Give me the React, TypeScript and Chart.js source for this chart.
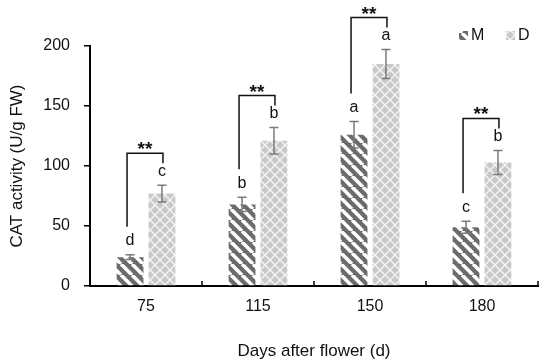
import React, { useEffect, useRef } from "react";
import { Chart, registerables } from "chart.js";

Chart.register(...registerables);

const categories = ["75", "115", "150", "180"];
const mValues = [24, 68, 126, 49];
const mErrors = [2, 6, 11, 5];
const dValues = [77, 121, 185, 103];
const dErrors = [7, 11, 12, 10];
const mLetters = ["d", "b", "a", "c"];
const dLetters = ["c", "b", "a", "b"];
const significance = ["**", "**", "**", "**"];
const seriesNames = ["M", "D"];
const yTicks = [0, 50, 100, 150, 200];

const FONT = "'Liberation Sans', Arial, sans-serif";
const M_COLOR = "#6b6b6b";
const D_COLOR = "#c8c8c8";

function makeStripePattern(): CanvasPattern | string {
  const s = 11;
  const c = document.createElement("canvas");
  c.width = s;
  c.height = s;
  const g = c.getContext("2d");
  if (!g) return M_COLOR;
  g.fillStyle = M_COLOR;
  g.fillRect(0, 0, s, s);
  g.strokeStyle = "#ffffff";
  g.lineWidth = 3.6;
  for (const x0 of [-s, 0, s]) {
    g.beginPath();
    g.moveTo(x0, 0);
    g.lineTo(x0 + s, s);
    g.stroke();
  }
  return g.createPattern(c, "repeat") || M_COLOR;
}

function makeLatticePattern(): CanvasPattern | string {
  const s = 10;
  const c = document.createElement("canvas");
  c.width = s;
  c.height = s;
  const g = c.getContext("2d");
  if (!g) return D_COLOR;
  g.fillStyle = D_COLOR;
  g.fillRect(0, 0, s, s);
  g.strokeStyle = "#f4f4f4";
  g.lineWidth = 1.4;
  for (const x0 of [-s, 0, s]) {
    g.beginPath();
    g.moveTo(x0, 0);
    g.lineTo(x0 + s, s);
    g.stroke();
    g.beginPath();
    g.moveTo(x0 + s, 0);
    g.lineTo(x0, s);
    g.stroke();
  }
  return g.createPattern(c, "repeat") || D_COLOR;
}

export default function App() {
  const ref = useRef<HTMLCanvasElement | null>(null);

  useEffect(() => {
    document.body.style.margin = "0";
    const canvas = ref.current;
    if (!canvas) return;
    const mPat = makeStripePattern();
    const dPat = makeLatticePattern();

    const overlay = {
      id: "overlay",
      afterDatasetsDraw(chart: any) {
        const ctx = chart.ctx as CanvasRenderingContext2D;
        const ys = chart.scales.y;
        const area = chart.chartArea;
        const mMeta = chart.getDatasetMeta(0);
        const dMeta = chart.getDatasetMeta(1);
        ctx.save();

        const sets: [any, number[], number[], string[]][] = [
          [mMeta, mValues, mErrors, mLetters],
          [dMeta, dValues, dErrors, dLetters],
        ];
        // error bars + letters
        sets.forEach(([meta, vals, errs, letters]) => {
          meta.data.forEach((bar: any, i: number) => {
            const yt = ys.getPixelForValue(vals[i] + errs[i]);
            const yb = ys.getPixelForValue(vals[i] - errs[i]);
            ctx.strokeStyle = "#7a7a7a";
            ctx.lineWidth = 1.5;
            ctx.beginPath();
            ctx.moveTo(bar.x, yt);
            ctx.lineTo(bar.x, yb);
            ctx.moveTo(bar.x - 4.5, yt);
            ctx.lineTo(bar.x + 4.5, yt);
            ctx.moveTo(bar.x - 4.5, yb);
            ctx.lineTo(bar.x + 4.5, yb);
            ctx.stroke();
            ctx.fillStyle = "#111";
            ctx.font = `16px ${FONT}`;
            ctx.textAlign = "center";
            ctx.textBaseline = "middle";
            ctx.fillText(letters[i], bar.x, yt - 14);
          });
        });

        // significance brackets
        categories.forEach((_, i) => {
          const mb = mMeta.data[i];
          const db = dMeta.data[i];
          const mCap = ys.getPixelForValue(mValues[i] + mErrors[i]);
          const dCap = ys.getPixelForValue(dValues[i] + dErrors[i]);
          const lx = mb.x - 3;
          const rx = db.x + 1;
          const top = Math.min(mCap, dCap) - 32;
          ctx.strokeStyle = "#111";
          ctx.lineWidth = 1.5;
          ctx.beginPath();
          ctx.moveTo(lx, mCap - 28);
          ctx.lineTo(lx, top);
          ctx.lineTo(rx, top);
          ctx.lineTo(rx, Math.max(dCap - 25, top + 10));
          ctx.stroke();
          ctx.fillStyle = "#111";
          ctx.font = `bold 19px ${FONT}`;
          ctx.textAlign = "center";
          ctx.textBaseline = "alphabetic";
          ctx.fillText(significance[i], (lx + rx) / 2, top + 2);
        });

        // inward x-axis ticks at category boundaries
        ctx.strokeStyle = "#000";
        ctx.lineWidth = 1.5;
        const w = (area.right - area.left) / categories.length;
        for (let i = 1; i <= categories.length; i++) {
          const x = area.left + i * w;
          ctx.beginPath();
          ctx.moveTo(x, area.bottom);
          ctx.lineTo(x, area.bottom - 5);
          ctx.stroke();
        }

        // legend
        const legendItems: [string, any, number][] = [
          [seriesNames[0], mPat, 459],
          [seriesNames[1], dPat, 506],
        ];
        legendItems.forEach(([name, pat, lx]) => {
          ctx.fillStyle = pat;
          ctx.fillRect(lx, 31, 9, 9);
          ctx.fillStyle = "#111";
          ctx.font = `16px ${FONT}`;
          ctx.textAlign = "left";
          ctx.textBaseline = "middle";
          ctx.fillText(name, lx + 12, 36);
        });
        ctx.restore();
      },
    };

    const chart = new Chart(canvas, {
      type: "bar",
      data: {
        labels: categories,
        datasets: [
          {
            label: seriesNames[0],
            data: mValues,
            backgroundColor: mPat as any,
            borderWidth: 0,
            barPercentage: 0.84,
            categoryPercentage: 0.57,
          },
          {
            label: seriesNames[1],
            data: dValues,
            backgroundColor: dPat as any,
            borderWidth: 0,
            barPercentage: 0.84,
            categoryPercentage: 0.57,
          },
        ],
      },
      options: {
        responsive: false,
        animation: false,
        layout: { padding: { top: 46, right: 12, left: 0, bottom: 0 } },
        plugins: {
          legend: { display: false },
          tooltip: { enabled: false },
        },
        scales: {
          x: {
            grid: { display: false },
            border: { color: "#000", width: 2 },
            ticks: { color: "#111", font: { family: FONT, size: 16 }, padding: 3 },
            title: {
              display: true,
              text: "Days after flower (d)",
              color: "#111",
              font: { family: FONT, size: 17 },
              padding: { top: 0, bottom: 0 },
            },
            afterFit: (s: any) => {
              s.height = 76;
            },
          },
          y: {
            min: 0,
            max: 200,
            afterBuildTicks: (s: any) => {
              s.ticks = yTicks.map((v) => ({ value: v }));
            },
            grid: { drawOnChartArea: false, tickLength: 6, color: "#000", lineWidth: 1.5 },
            border: { color: "#000", width: 2 },
            ticks: { color: "#111", font: { family: FONT, size: 16 }, padding: 14 },
            title: {
              display: true,
              text: "CAT activity (U/g FW)",
              color: "#111",
              font: { family: FONT, size: 17 },
              padding: { top: 7, bottom: 0 },
            },
            afterFit: (s: any) => {
              s.width = 90;
            },
          },
        },
      },
      plugins: [overlay],
    });
    return () => chart.destroy();
  }, []);

  return (
    <div style={{ width: 550, height: 362, background: "#fff" }}>
      <canvas ref={ref} width={550} height={362} />
    </div>
  );
}
